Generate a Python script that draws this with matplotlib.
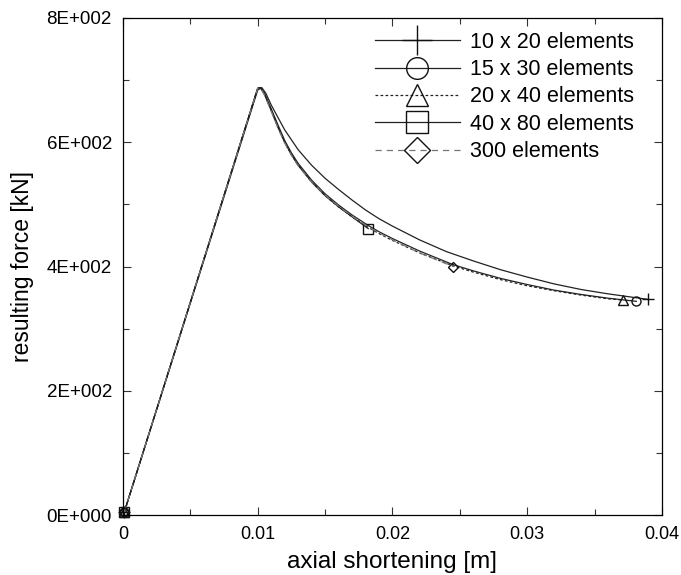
"""Resulting force vs. axial shortening for different mesh refinements."""

import matplotlib.pyplot as plt
from matplotlib.ticker import MultipleLocator, FuncFormatter

plt.rcParams["font.family"] = ["Liberation Sans", "DejaVu Sans"]

# 10 x 20 elements (stiffest post-peak response)
x_10x20 = [0.0001, 0.0100, 0.0103, 0.0106, 0.0110, 0.0115, 0.0120, 0.0130, 0.0140,
           0.0150, 0.0160, 0.0170, 0.0180, 0.0190, 0.0200, 0.0220, 0.0240, 0.0260,
           0.0280, 0.0300, 0.0320, 0.0340, 0.0360, 0.0390]
y_10x20 = [5, 684, 688, 679, 660, 640, 620, 588, 563,
           542, 524, 507, 491, 477, 465, 443, 424, 409,
           395, 383, 372, 363, 356, 347]

# 15 x 30 elements
x_15x30 = [0.0001, 0.0100, 0.0102, 0.0105, 0.0110, 0.0115, 0.0120, 0.0125, 0.0130,
           0.0140, 0.0150, 0.0160, 0.0170, 0.0182, 0.0190, 0.0200, 0.0220, 0.0245,
           0.0260, 0.0280, 0.0300, 0.0320, 0.0340, 0.0360, 0.0381]
y_15x30 = [5, 687, 688, 679, 654, 628, 603, 583, 566,
           539, 517, 499, 483, 466, 456, 445, 425, 403,
           393, 381, 371, 362, 355, 349, 344]

# 20 x 40 elements
x_20x40 = [0.0001, 0.0100, 0.0102, 0.0105, 0.0110, 0.0115, 0.0120, 0.0125, 0.0130,
           0.0140, 0.0150, 0.0160, 0.0170, 0.0182, 0.0190, 0.0200, 0.0220, 0.0245,
           0.0260, 0.0280, 0.0300, 0.0320, 0.0340, 0.0360, 0.0371]
y_20x40 = [5, 687, 688, 678, 652, 625, 600, 580, 563,
           536, 514, 496, 480, 463, 453, 442, 422, 401,
           391, 379, 369, 361, 354, 348, 346]

# 40 x 80 elements
x_40x80 = [0.0001, 0.0100, 0.0102, 0.0105, 0.0110, 0.0115, 0.0120, 0.0125, 0.0130,
           0.0140, 0.0150, 0.0160, 0.0170, 0.0182]
y_40x80 = [5, 687, 688, 677, 651, 624, 600, 580, 563,
           536, 514, 496, 480, 461]

# 300 elements
x_300 = [0.0001, 0.0100, 0.0102, 0.0105, 0.0110, 0.0115, 0.0120, 0.0125, 0.0130,
         0.0140, 0.0150, 0.0160, 0.0170, 0.0182, 0.0190, 0.0200, 0.0220, 0.0245]
y_300 = [5, 687, 688, 676, 650, 623, 599, 579, 562,
         536, 515, 497, 481, 464, 454, 443, 422, 400]

series = [
    ("10 x 20 elements", x_10x20, y_10x20, "+", "-", "#222222"),
    ("15 x 30 elements", x_15x30, y_15x30, "o", "-", "#222222"),
    ("20 x 40 elements", x_20x40, y_20x40, "^", (0, (2.2, 1.8)), "#222222"),
    ("40 x 80 elements", x_40x80, y_40x80, "s", "-", "#222222"),
    ("300 elements", x_300, y_300, "D", (0, (5, 4)), "#777777"),
]
marker_sizes = {"+": 9, "o": 6.5, "^": 6.5, "s": 6.5, "D": 5.5}

fig = plt.figure(figsize=(6.81, 5.75), dpi=100)
ax = fig.add_axes([0.1806, 0.1043, 0.7914, 0.8644])

for label, xs, ys, marker, ls, color in series:
    ax.plot(xs, ys, linestyle=ls, color=color, linewidth=0.9,
            marker=marker, markevery=[0, len(xs) - 1],
            markersize=marker_sizes[marker], markerfacecolor="none",
            markeredgecolor="#111111", markeredgewidth=1.0,
            label=label, clip_on=False)

ax.set_xlim(0, 0.04)
ax.set_ylim(0, 800)
ax.xaxis.set_major_locator(MultipleLocator(0.01))
ax.xaxis.set_minor_locator(MultipleLocator(0.005))
ax.yaxis.set_major_locator(MultipleLocator(200))
ax.yaxis.set_minor_locator(MultipleLocator(100))
ax.xaxis.set_major_formatter(FuncFormatter(lambda v, p: "0" if v == 0 else f"{v:g}"))
ax.yaxis.set_major_formatter(FuncFormatter(lambda v, p: f"{int(round(v / 100))}E+002" if v else "0E+000"))

ax.tick_params(which="both", direction="in", top=True, right=True,
               color="#333333", width=0.8)
ax.tick_params(axis="x", labelsize=13)
ax.tick_params(axis="y", labelsize=13.5)
ax.tick_params(which="major", length=6, pad=8)
ax.tick_params(which="minor", length=4)
for spine in ax.spines.values():
    spine.set_linewidth(0.9)

ax.set_xlabel("axial shortening [m]", fontsize=17.5, labelpad=5.5)
ax.set_ylabel("resulting force [kN]", fontsize=16.5, labelpad=9)

ax.legend(loc="upper right", bbox_to_anchor=(0.964, 0.99), frameon=False,
          fontsize=15.5, markerscale=2.4, handlelength=3.95, handletextpad=0.47,
          labelspacing=0.3, borderaxespad=0.0)

fig.savefig("out.png", dpi=100)
